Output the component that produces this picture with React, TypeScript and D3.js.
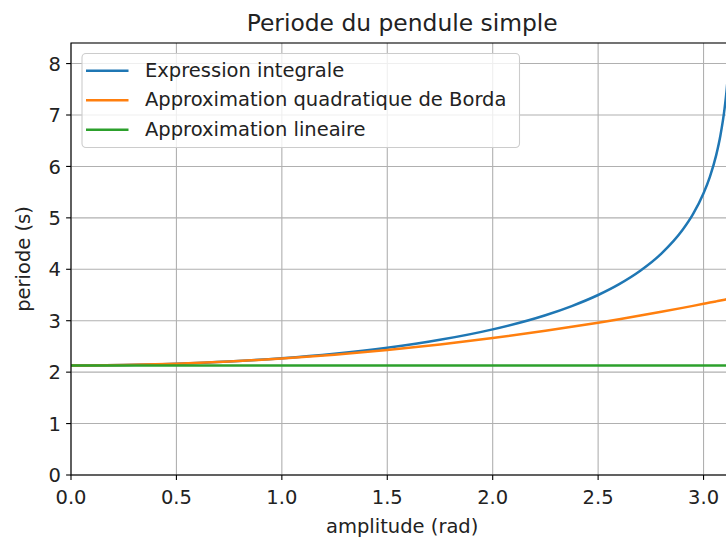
import React from "react";
import * as d3 from "d3";

// Amplitude samples (rad) and periods (s)
const amplitudes = [0, 0.25, 0.5, 0.75, 1.0, 1.25, 1.5, 1.75, 2.0, 2.25, 2.375, 2.5, 2.6, 2.7, 2.8, 2.9, 2.95, 3.0, 3.03, 3.06, 3.08, 3.1, 3.11, 3.12, 3.1216];
const integralPeriod = [2.13, 2.138, 2.164, 2.207, 2.271, 2.359, 2.475, 2.628, 2.831, 3.106, 3.285, 3.5, 3.711, 3.971, 4.304, 4.762, 5.071, 5.477, 5.797, 6.22, 6.601, 7.132, 7.505, 8.021, 8.125];
const bordaPeriod = [2.13, 2.1383, 2.1633, 2.2049, 2.2631, 2.338, 2.4295, 2.5377, 2.6625, 2.8039, 2.8809, 2.962, 3.0299, 3.1005, 3.1737, 3.2496, 3.2885, 3.3281, 3.3522, 3.3765, 3.3929, 3.4093, 3.4176, 3.4259, 3.4272];
const linearAmplitudes = [0, 3.1216];
const linearPeriod = [2.13, 2.13];

const xTicks = [0, 0.5, 1.0, 1.5, 2.0, 2.5, 3.0];
const yTicks = [0, 1, 2, 3, 4, 5, 6, 7, 8];

const seriesNames = ["Expression integrale", "Approximation quadratique de Borda", "Approximation lineaire"];
const seriesColors = ["#1f77b4", "#ff7f0e", "#2ca02c"];

const W = 726;
const H = 538;
const left = 71;
const right = 733.4;
const top = 43;
const bottom = 475;
const FONT = "DejaVu Sans, sans-serif";
const FS = 19.5;
const LW = 2.5;

export default function App() {
  const x = d3.scaleLinear().domain([0, Math.PI]).range([left, right]);
  const y = d3.scaleLinear().domain([0, 8.4]).range([bottom, top]);

  const line = d3
    .line<[number, number]>()
    .x((d) => x(d[0]))
    .y((d) => y(d[1]))
    .curve(d3.curveMonotoneX);

  const series: [number, number][][] = [
    amplitudes.map((a, i) => [a, integralPeriod[i]]),
    amplitudes.map((a, i) => [a, bordaPeriod[i]]),
    linearAmplitudes.map((a, i) => [a, linearPeriod[i]]),
  ];

  const legendX = 82;
  const legendY = 53.5;
  const legendW = 437.5;
  const legendH = 94;
  const rowY = [70.7, 100.2, 129.7];

  return (
    <svg
      width={W}
      height={H}
      style={{ position: "absolute", left: 0, top: 0, background: "#fff" }}
      fontFamily={FONT}
    >
      <defs>
        <clipPath id="plot-area">
          <rect x={left} y={top} width={right - left} height={bottom - top} />
        </clipPath>
      </defs>
      <rect x={0} y={0} width={W} height={H} fill="#fff" />

      {/* grid */}
      <g stroke="#b0b0b0" strokeWidth={1.1}>
        {xTicks.map((t) => (
          <line key={"gx" + t} x1={x(t)} x2={x(t)} y1={top} y2={bottom} />
        ))}
        {yTicks.map((t) => (
          <line key={"gy" + t} x1={left} x2={right} y1={y(t)} y2={y(t)} />
        ))}
      </g>

      {/* curves */}
      <g clipPath="url(#plot-area)" fill="none" strokeWidth={LW}>
        {series.map((s, i) => (
          <path key={i} d={line(s) ?? ""} stroke={seriesColors[i]} />
        ))}
      </g>

      {/* spines */}
      <rect x={left} y={top} width={right - left} height={bottom - top} fill="none" stroke="#000" strokeWidth={1.1} />

      {/* x ticks */}
      <g>
        {xTicks.map((t) => (
          <g key={"xt" + t}>
            <line x1={x(t)} x2={x(t)} y1={bottom} y2={bottom + 4.9} stroke="#000" strokeWidth={1.1} />
            <text x={x(t)} y={504} textAnchor="middle" fontSize={FS} fill="#222">
              {t.toFixed(1)}
            </text>
          </g>
        ))}
      </g>

      {/* y ticks */}
      <g>
        {yTicks.map((t) => (
          <g key={"yt" + t}>
            <line x1={left - 4.9} x2={left} y1={y(t)} y2={y(t)} stroke="#000" strokeWidth={1.1} />
            <text x={61} y={y(t) + 7.1} textAnchor="end" fontSize={FS} fill="#222">
              {t}
            </text>
          </g>
        ))}
      </g>

      {/* axis labels and title */}
      <text x={(left + right) / 2} y={533} textAnchor="middle" fontSize={FS} fill="#222">
        amplitude (rad)
      </text>
      <text
        transform={`translate(30, ${(top + bottom) / 2}) rotate(-90)`}
        textAnchor="middle"
        fontSize={FS}
        fill="#222"
      >
        periode (s)
      </text>
      <text x={(left + right) / 2} y={31} textAnchor="middle" fontSize={23.4} fill="#222">
        Periode du pendule simple
      </text>

      {/* legend */}
      <rect
        x={legendX}
        y={legendY}
        width={legendW}
        height={legendH}
        rx={4}
        ry={4}
        fill="#fff"
        fillOpacity={0.8}
        stroke="#cccccc"
        strokeWidth={1.1}
      />
      {seriesNames.map((name, i) => (
        <g key={name}>
          <line x1={86} x2={128.5} y1={rowY[i]} y2={rowY[i]} stroke={seriesColors[i]} strokeWidth={LW} />
          <text x={145} y={rowY[i] + 6} fontSize={FS} fill="#222">
            {name}
          </text>
        </g>
      ))}
    </svg>
  );
}
